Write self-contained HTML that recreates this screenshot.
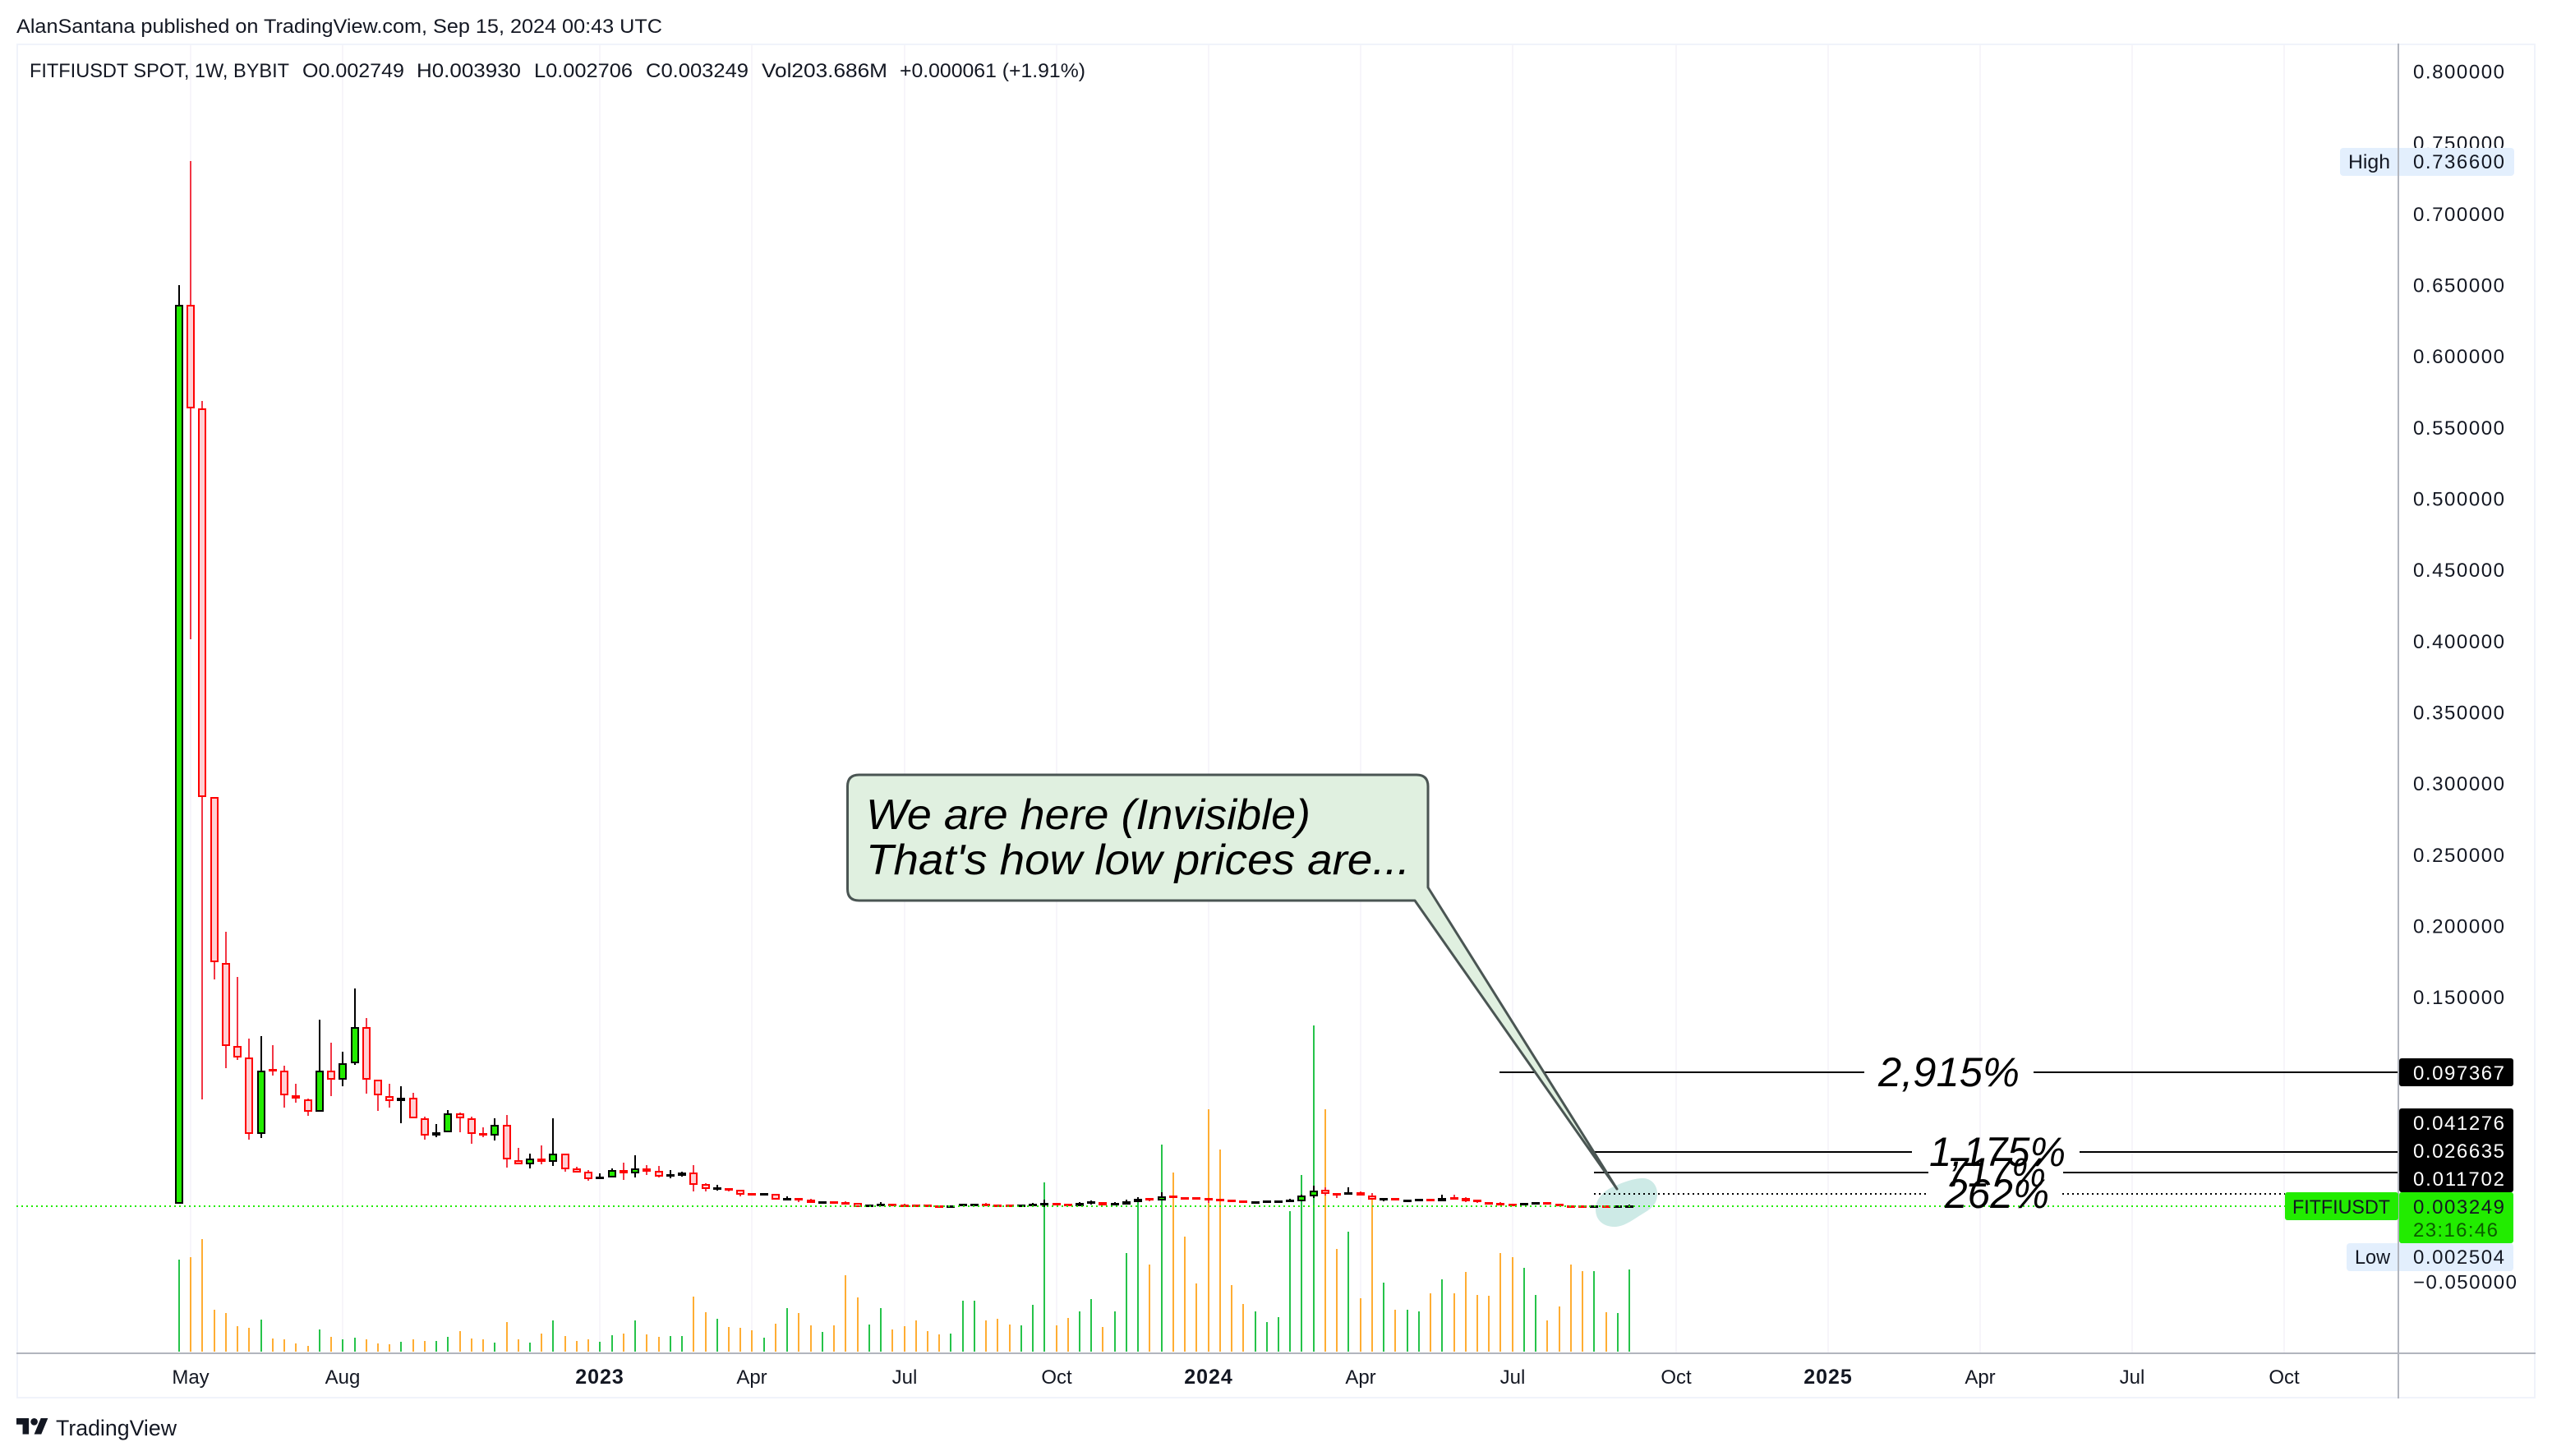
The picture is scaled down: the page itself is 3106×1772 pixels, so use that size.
<!DOCTYPE html>
<html lang="en">
<head>
<meta charset="utf-8">
<title>FITFIUSDT weekly chart</title>
<style>
html,body{margin:0;padding:0;background:#fff;width:3106px;height:1772px;overflow:hidden}
svg{display:block}
text{font-family:"Liberation Sans",sans-serif;fill:#131722;font-size:24px}
.callout{font-size:52px;font-style:italic;fill:#000}
.pct{font-size:50px;font-style:italic;fill:#000}
</style>
</head>
<body>
<svg id="chart" xmlns="http://www.w3.org/2000/svg" width="3106" height="1772" viewBox="0 0 3106 1772">
  <rect x="0" y="0" width="3106" height="1772" fill="#ffffff"/>
  <text x="20" y="40" textLength="786" lengthAdjust="spacingAndGlyphs">AlanSantana published on TradingView.com, Sep 15, 2024 00:43 UTC</text>
  <rect x="21" y="54" width="3064" height="1647" fill="none" stroke="#f0f3fa" stroke-width="2"/>
  <g id="grid"></g>
  <g id="volumes"></g>
  <path fill="#cdeae6" d="M1997,1434 C2010,1433 2018,1443 2017,1455 C2016,1467 2008,1472 1998,1478 C1988,1484 1976,1494 1963,1493 C1950,1492 1942,1484 1942,1472 C1942,1460 1950,1452 1958,1447 C1970,1441 1984,1435 1997,1434 Z"/>
  <g id="candles"></g>
  <line id="lastLine" x1="20" x2="2781" stroke="#22ec00" stroke-width="2" stroke-dasharray="2 4"/>
  <g id="levels"></g>
  <path fill="#e0f0e0" stroke="#4a5553" stroke-width="3" stroke-linejoin="round" d="M1045.5,943 H1724 Q1738,943 1738,957 V1080 L1968,1447 L1722,1096 H1045.5 Q1031.5,1096 1031.5,1082 V957 Q1031.5,943 1045.5,943 Z"/>
  <text class="callout" x="1054" y="1009" textLength="541" lengthAdjust="spacingAndGlyphs">We are here (Invisible)</text>
  <text class="callout" x="1054" y="1064" textLength="662" lengthAdjust="spacingAndGlyphs">That's how low prices are...</text>
  <rect x="20" y="1646" width="3066" height="2" fill="#b2b5be"/>
  <rect x="2918" y="53" width="2" height="1649" fill="#b2b5be"/>
  <g id="ticks"></g>
  <g id="timeLabels"></g>

  <g>
    <rect x="2848" y="180" width="212" height="34" rx="4" fill="#e3effd"/>
    <rect x="2918" y="180" width="2" height="34" fill="#b2b5be"/>
    <text x="2858" y="205" textLength="51" lengthAdjust="spacingAndGlyphs">High</text>
    <text x="2937" y="205" textLength="111">0.736600</text>
  </g>
  <g>
    <rect x="2920" y="1288" width="139" height="34" rx="3" fill="#000"/>
    <text x="2937" y="1314" textLength="111" style="fill:#fff">0.097367</text>
    <rect x="2920" y="1349" width="139" height="102" rx="3" fill="#000"/>
    <text x="2937" y="1375" textLength="111" style="fill:#fff">0.041276</text>
    <text x="2937" y="1409" textLength="111" style="fill:#fff">0.026635</text>
    <text x="2937" y="1443" textLength="111" style="fill:#fff">0.011702</text>
  </g>
  <g>
    <rect x="2781" y="1451" width="138" height="34" rx="3" fill="#22ec00"/>
    <text x="2790" y="1477" textLength="119" lengthAdjust="spacingAndGlyphs">FITFIUSDT</text>
    <rect x="2920" y="1451" width="139" height="62" rx="3" fill="#22ec00"/>
    <text x="2937" y="1477" textLength="111">0.003249</text>
    <text x="2937" y="1505" textLength="103" style="fill:#0b5c00">23:16:46</text>
  </g>
  <g>
    <rect x="2856" y="1513" width="203" height="34" rx="4" fill="#e3effd"/>
    <rect x="2918" y="1513" width="2" height="34" fill="#b2b5be"/>
    <text x="2866" y="1538" textLength="43" lengthAdjust="spacingAndGlyphs">Low</text>
    <text x="2937" y="1538" textLength="111">0.002504</text>
  </g>

  <g>
    <text x="36" y="94" textLength="316" lengthAdjust="spacingAndGlyphs">FITFIUSDT SPOT, 1W, BYBIT</text>
    <text x="368" y="94" textLength="124" lengthAdjust="spacingAndGlyphs">O0.002749</text>
    <text x="507" y="94" textLength="127" lengthAdjust="spacingAndGlyphs">H0.003930</text>
    <text x="650" y="94" textLength="120" lengthAdjust="spacingAndGlyphs">L0.002706</text>
    <text x="786" y="94" textLength="125" lengthAdjust="spacingAndGlyphs">C0.003249</text>
    <text x="927" y="94" textLength="153" lengthAdjust="spacingAndGlyphs">Vol203.686M</text>
    <text x="1095" y="94" textLength="226" lengthAdjust="spacingAndGlyphs">+0.000061 (+1.91%)</text>
  </g>

  <g>
    <path transform="translate(20,1721.7) scale(1.08)" fill="#131722" d="M14 22H7V11H0V4h14v18zM28 22h-8l7.5-18h8L28 22z"/>
    <circle cx="41.6" cy="1730.3" r="4.3" fill="#131722"/>
    <text x="68" y="1747" textLength="147" lengthAdjust="spacingAndGlyphs" style="font-size:27px">TradingView</text>
  </g>
</svg>
<script>
// ---- chart data (weekly bars, May 2022 - Sep 2024) ----
var opens = [.0046,.6361,.5632,.2902,.1737,.1154,.1073,.0537,.0992,.0981,
.0808,.0779,.0692,.0981,.0917,.1033,.1287,.0917,.0802,.0767,
.0790,.0646,.0525,.0548,.0681,.0646,.0542,.0525,.0600,.0352,
.0323,.0364,.0340,.0398,.0294,.0271,.0219,.0231,.0283,.0260,
.0294,.0277,.0248,.0242,.0265,.0185,.0156,.0156,.0144,.0121,
.0110,.0115,.0075,.0087,.0075,.0052,.0063,.0058,.0052,.0029,
.0040,.0046,.0040,.0040,.0040,.0035,.0025,.0035,.0035,.0046,
.0040,.0040,.0029,.0035,.0040,.0052,.0046,.0029,.0058,.0058,
.0040,.0040,.0058,.0087,.0069,.0104,.0092,.0092,.0087,.0081,
.0075,.0069,.0052,.0058,.0058,.0063,.0063,.0098,.0144,.0121,
.0110,.0127,.0104,.0075,.0087,.0063,.0069,.0081,.0063,.0092,
.0087,.0075,.0058,.0052,.0046,.0046,.0052,.0058,.0046,.0035,
.0035,.0029,.0035,.0029,.002749];
var closes = [.6361,.5632,.2902,.1743,.1154,.1073,.0537,.0981,.0981,.0808,
.0785,.0692,.0981,.0917,.1033,.1287,.0917,.0808,.0767,.0790,
.0646,.0525,.0548,.0681,.0646,.0537,.0537,.0600,.0358,.0323,
.0364,.0340,.0398,.0289,.0265,.0219,.0237,.0283,.0260,.0294,
.0271,.0237,.0254,.0265,.0179,.0150,.0162,.0138,.0110,.0110,
.0121,.0075,.0087,.0075,.0052,.0063,.0052,.0046,.0025,.0040,
.0046,.0035,.0029,.0029,.0029,.0025,.0035,.0046,.0046,.0035,
.0029,.0029,.0040,.0046,.0052,.0040,.0035,.0052,.0063,.0035,
.0052,.0063,.0081,.0075,.0098,.0092,.0081,.0081,.0075,.0069,
.0063,.0058,.0063,.0069,.0069,.0075,.0104,.0138,.0115,.0110,
.0127,.0104,.0075,.0087,.0075,.0075,.0081,.0069,.0087,.0081,
.0063,.0063,.0040,.0040,.0035,.0052,.0058,.0052,.0035,.0029,
.0029,.0035,.0029,.0035,.003249];
var highs = [.6498,.7366,.5684,.2902,.1956,.1639,.1206,.1223,.1160,.1016,
.0889,.0785,.1339,.1177,.1114,.1558,.1350,.0917,.0889,.0871,
.0825,.0658,.0606,.0704,.0687,.0658,.0583,.0646,.0669,.0439,
.0398,.0456,.0646,.0398,.0306,.0283,.0260,.0294,.0335,.0387,
.0317,.0312,.0283,.0271,.0317,.0190,.0179,.0156,.0144,.0121,
.0121,.0115,.0098,.0087,.0081,.0063,.0063,.0063,.0052,.0040,
.0058,.0046,.0046,.0040,.0040,.0035,.0035,.0046,.0046,.0052,
.0040,.0040,.0040,.0052,.0075,.0052,.0046,.0058,.0069,.0058,
.0058,.0075,.0092,.0087,.0127,.0104,.0092,.0092,.0087,.0081,
.0075,.0069,.0063,.0069,.0069,.0081,.0110,.0173,.0162,.0121,
.0162,.0133,.0121,.0087,.0087,.0075,.0081,.0081,.0110,.0110,
.0092,.0075,.0058,.0058,.0046,.0052,.0058,.0058,.0046,.0035,
.0035,.0035,.0035,.0035,.00393];
var lows = [.0046,.4010,.0779,.1621,.0998,.1056,.0496,.0508,.0946,.0721,
.0756,.0664,.0692,.0802,.0871,.1021,.0819,.0698,.0721,.0612,
.0646,.0496,.0514,.0548,.0548,.0467,.0514,.0490,.0300,.0323,
.0294,.0323,.0312,.0271,.0265,.0208,.0219,.0231,.0213,.0231,
.0248,.0231,.0225,.0237,.0133,.0133,.0138,.0133,.0098,.0104,
.0104,.0075,.0075,.0058,.0052,.0052,.0052,.0046,.0025,.0029,
.0029,.0035,.0029,.0029,.0029,.0025,.0025,.0035,.0035,.0035,
.0029,.0029,.0029,.0025,.0025,.0035,.0035,.0029,.0040,.0035,
.0035,.0040,.0058,.0063,.0069,.0092,.0075,.0075,.0052,.0069,
.0058,.0052,.0052,.0058,.0058,.0058,.0063,.0087,.0104,.0087,
.0110,.0104,.0075,.0063,.0075,.0058,.0063,.0063,.0063,.0081,
.0058,.0052,.0040,.0040,.0035,.0046,.0052,.0052,.0035,.0029,
.0029,.0029,.0029,.0029,.002706];
var volumes = [224,230,274,102,94,62,58,78,32,30,
20,14,54,36,30,34,30,20,18,24,
30,26,26,36,50,32,30,22,72,30,
22,44,76,38,26,30,24,40,44,76,
42,36,38,38,134,96,80,60,58,52,
34,68,106,94,64,48,64,186,132,66,
106,54,62,76,50,42,44,124,124,76,
80,66,64,114,412,64,82,98,128,60,
98,240,368,212,504,436,280,166,590,492,
162,116,98,72,84,342,430,794,590,250,
292,130,370,168,102,102,98,142,176,142,
194,138,136,240,230,204,138,76,110,212,
196,196,96,94,200];
var priceTicks = [0.8,0.75,0.7,0.65,0.6,0.55,0.5,0.45,0.4,0.35,0.3,0.25,0.2,0.15,0.1,0.05,0,-0.05];
var timeTickLabels = ["May","Aug","2023","Apr","Jul","Oct","2024","Apr","Jul","Oct","2025","Apr","Jul","Oct"];
var timeTickWeeks = [1,14,36,49,62,75,88,101,114,128,141,154,167,180];
var lastPrice = 0.003249;
var levelPrices = [0.097367,0.041276,0.026635,0.011702];
var levelLabels = ["2,915%","1,175%","717%","262%"];

// ---- axis functions ----
function xAt(week){ return 218 + 14.234 * week; }
function yAt(price){ return 1473 - 1733 * price; }
function volTop(v){ return 1645 - 0.5 * v; }

var NS = "http://www.w3.org/2000/svg";
function mk(parent, tag, attrs){
  var el = document.createElementNS(NS, tag);
  for (var k in attrs) el.setAttribute(k, attrs[k]);
  parent.appendChild(el);
  return el;
}

// gridlines and time labels
var gridG = document.getElementById('grid');
var timeG = document.getElementById('timeLabels');
timeTickLabels.forEach(function(label, i){
  var x = Math.round(xAt(timeTickWeeks[i]));
  var g = mk(gridG, 'rect', {x:x-1, y:55, width:2, height:1591, fill:'#f7f5fa'});
  
  
  var isYear = /^\d+$/.test(label);
  var t = mk(timeG, 'text', {x:x, y:1684, 'text-anchor':'middle'});
  
  
  if (isYear) { t.setAttribute('font-weight', '700'); t.setAttribute('style', 'font-weight:700;font-size:25px;letter-spacing:1px'); }
  t.textContent = label;
});

// volume bars
var volG = document.getElementById('volumes');
volumes.forEach(function(v, i){
  var up = closes[i] >= opens[i];
  var x = Math.round(xAt(i));
  var top = volTop(v);
  var bar = mk(volG, 'rect', {x:x-1, y:top, width:2, height:1645-top, fill: up ? '#26c34a' : '#ffad33'});
  
  
});

// candles
var candleG = document.getElementById('candles');
opens.forEach(function(o, i){
  var c = closes[i];
  var up = c >= o;
  var x = Math.round(xAt(i));
  var top = Math.round(yAt(Math.max(o, c)));
  var bot = Math.round(yAt(Math.min(o, c)));
  var hi = Math.round(yAt(highs[i]));
  var lo = Math.round(yAt(lows[i]));
  var edge = up ? '#000000' : '#ff0000';
  var g = mk(candleG, 'g', {'shape-rendering':'crispEdges'});
  
  
  var wick = mk(g, 'rect', {x:x-1, y:hi, width:2, height:Math.max(lo-hi, 1), fill: up ? '#000000' : '#f23645'});
  
  
  var h = Math.max(bot-top, 3);
  var body = mk(g, 'rect', {x:x-5, y:top, width:10, height:h, fill:edge});
  
  
  if (h > 4) {
    var fill = mk(g, 'rect', {x:x-3, y:top+2, width:6, height:h-4, fill: up ? '#22ec00' : '#ffd0d4'});
    
    
  }
});

// last price line
var lastLine = document.getElementById('lastLine');
lastLine.setAttribute('y1', Math.round(yAt(lastPrice) + 0.5));
lastLine.setAttribute('y2', Math.round(yAt(lastPrice) + 0.5));

// target levels
var levelG = document.getElementById('levels');
var levelStarts = [1825,1940,1940,1940];
var levelEnds = [2919,2919,2919,2781];
var gapStarts = [2269,2327,2347,2344];
var gapEnds = [2475,2531,2511,2510];
var labelStarts = [2286,2348,2369,2367];
var labelWidths = [172,166,121,127];
levelPrices.forEach(function(p, i){
  var y = Math.round(yAt(p) + 0.5);
  var dash = i === 3 ? '2 4' : 'none';
  var a = mk(levelG, 'line', {x1:levelStarts[i], x2:gapStarts[i], y1:y, y2:y, stroke:'#000', 'stroke-width':2, 'stroke-dasharray':dash});
  
  
  var b = mk(levelG, 'line', {x1:gapEnds[i], x2:levelEnds[i], y1:y, y2:y, stroke:'#000', 'stroke-width':2, 'stroke-dasharray':dash});
  
  
  var t = mk(levelG, 'text', {x:labelStarts[i], y:y+17, textLength:labelWidths[i], lengthAdjust:'spacingAndGlyphs', 'class':'pct'});
  
  
  t.textContent = levelLabels[i];
});

// price ticks
var tickG = document.getElementById('ticks');
priceTicks.forEach(function(p){
  var neg = p < 0;
  var t = mk(tickG, 'text', {x:2937, y:yAt(p)+9, textLength: neg ? 126 : 111});
  
  
  t.textContent = (neg ? '\u2212' : '') + Math.abs(p).toFixed(6);
});
</script>
</body>
</html>
